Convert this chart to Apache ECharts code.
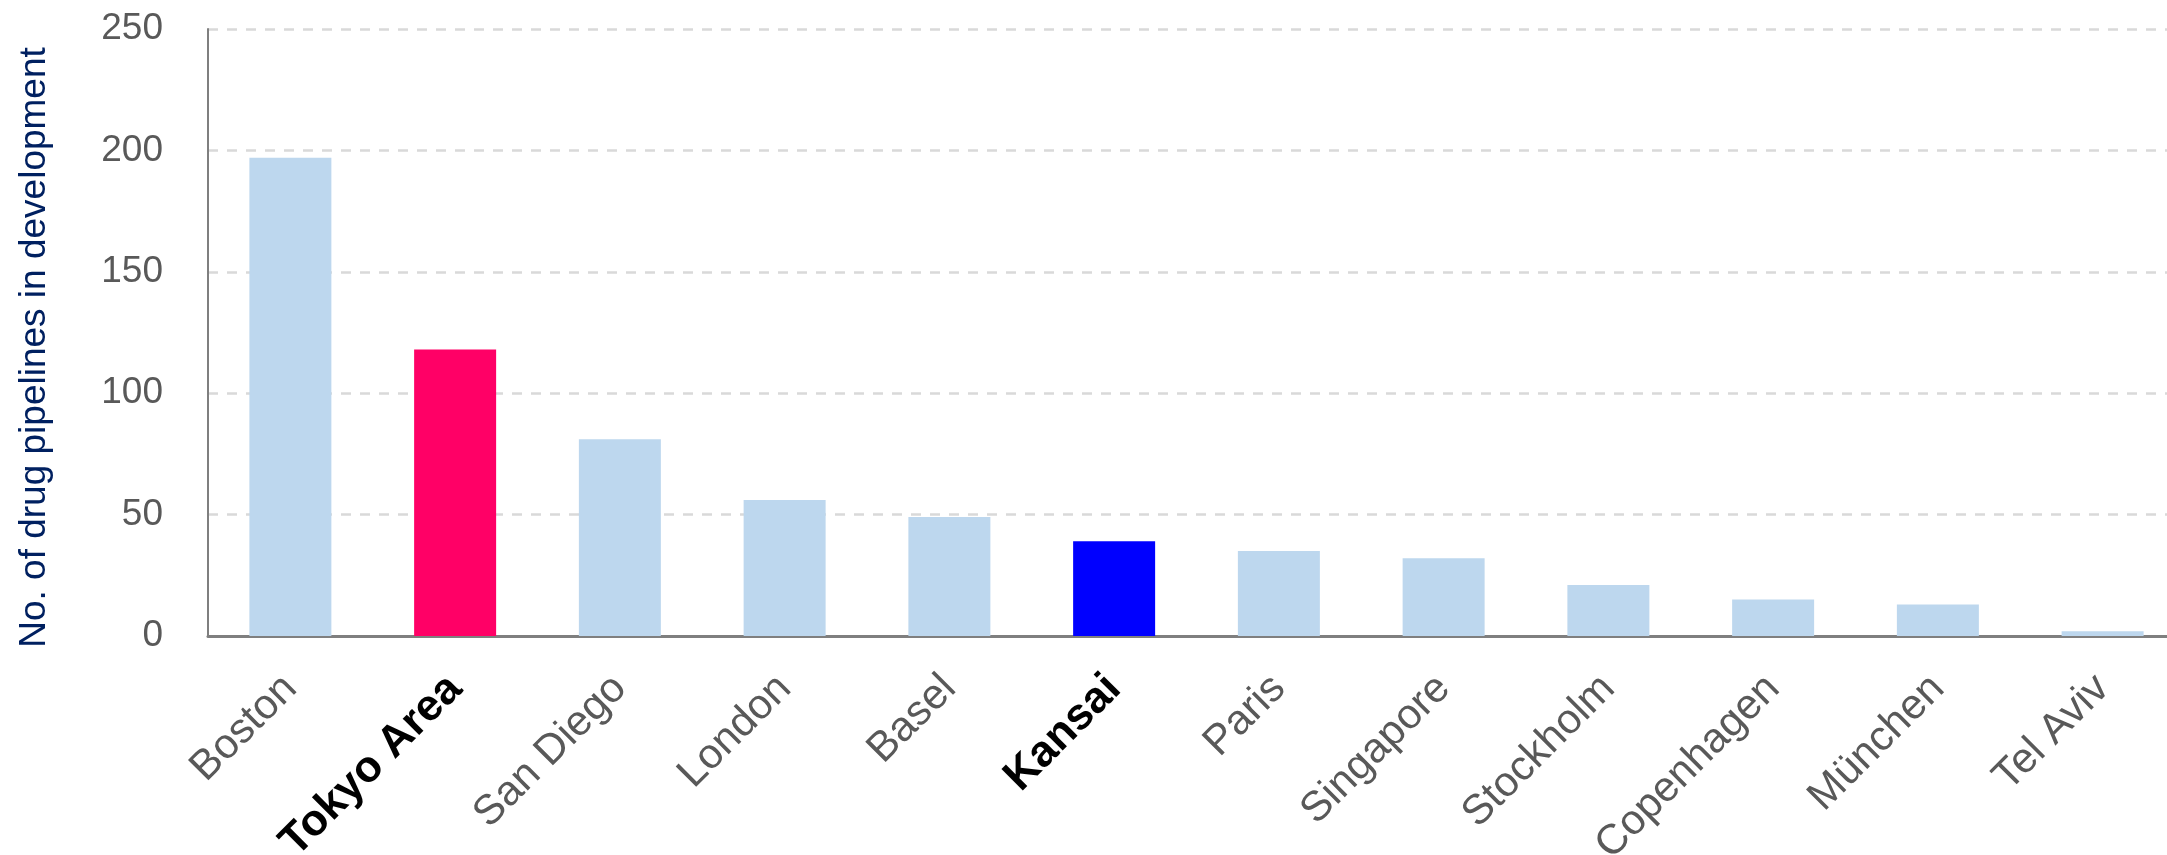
<!DOCTYPE html>
<html>
<head>
<meta charset="utf-8">
<script src="https://cdn.jsdelivr.net/npm/echarts@6/dist/echarts.min.js"></script>
<style>
  html, body { margin: 0; padding: 0; background: #fff; overflow: hidden; }
  /* plot area runs a little past the right edge, as in the source */
  #chart { width: 2185px; height: 855px; }
</style>
</head>
<body>
<div id="chart"></div>
<script>
// data
var cities = ["Boston", "Tokyo Area", "San Diego", "London", "Basel", "Kansai",
  "Paris", "Singapore", "Stockholm", "Copenhagen", "München", "Tel Aviv"];
var pipelines = [197, 118, 81, 56, 49, 39, 35, 32, 21, 15, 13, 2];
var highlighted = ["Tokyo Area", "Kansai"];
var yTicks = [0, 50, 100, 150, 200, 250];

var barColor = "#BDD7EE";
var specialColors = { "Tokyo Area": "#FF0066", "Kansai": "#0000FF" };

var font = "Arial, 'Liberation Sans', sans-serif";

var chart = echarts.init(document.getElementById("chart"));

var option = {
  backgroundColor: "#fff",
  animation: false,
  grid: {
    left: 208,
    right: 0,
    top: 29,
    bottom: 219,
    containLabel: false,
    outerBoundsMode: "none"
  },
  xAxis: {
    type: "category",
    data: cities.map(function (c) {
      if (highlighted.indexOf(c) >= 0) {
        return { value: c, textStyle: { color: "#000", fontWeight: "bold", fontSize: 44 } };
      }
      return c;
    }),
    axisTick: { show: false },
    axisLine: { lineStyle: { color: "#7F7F7F", width: 3 } },
    axisLabel: {
      interval: 0,
      rotate: 45,
      margin: 46,
      fontSize: 42,
      fontFamily: font,
      color: "#595959"
    }
  },
  yAxis: {
    type: "value",
    min: yTicks[0],
    max: yTicks[yTicks.length - 1],
    interval: 50,
    name: "No. of drug pipelines in development",
    nameLocation: "middle",
    nameRotate: 90,
    nameGap: 155,
    nameTextStyle: {
      fontSize: 37,
      fontFamily: font,
      color: "#002060",
      padding: [0, 0, 0, -30]
    },
    axisLine: { show: true, lineStyle: { color: "#7F7F7F", width: 2 } },
    axisTick: { show: false },
    axisLabel: {
      margin: 45,
      fontSize: 37,
      fontFamily: font,
      color: "#595959"
    },
    splitLine: {
      lineStyle: { color: "#D9D9D9", width: 2.7, type: [10, 9] }
    }
  },
  series: [
    {
      type: "bar",
      barWidth: 82,
      data: pipelines.map(function (v, i) {
        return {
          value: v,
          itemStyle: { color: specialColors[cities[i]] || barColor }
        };
      })
    }
  ]
};

chart.setOption(option);
</script>
</body>
</html>
